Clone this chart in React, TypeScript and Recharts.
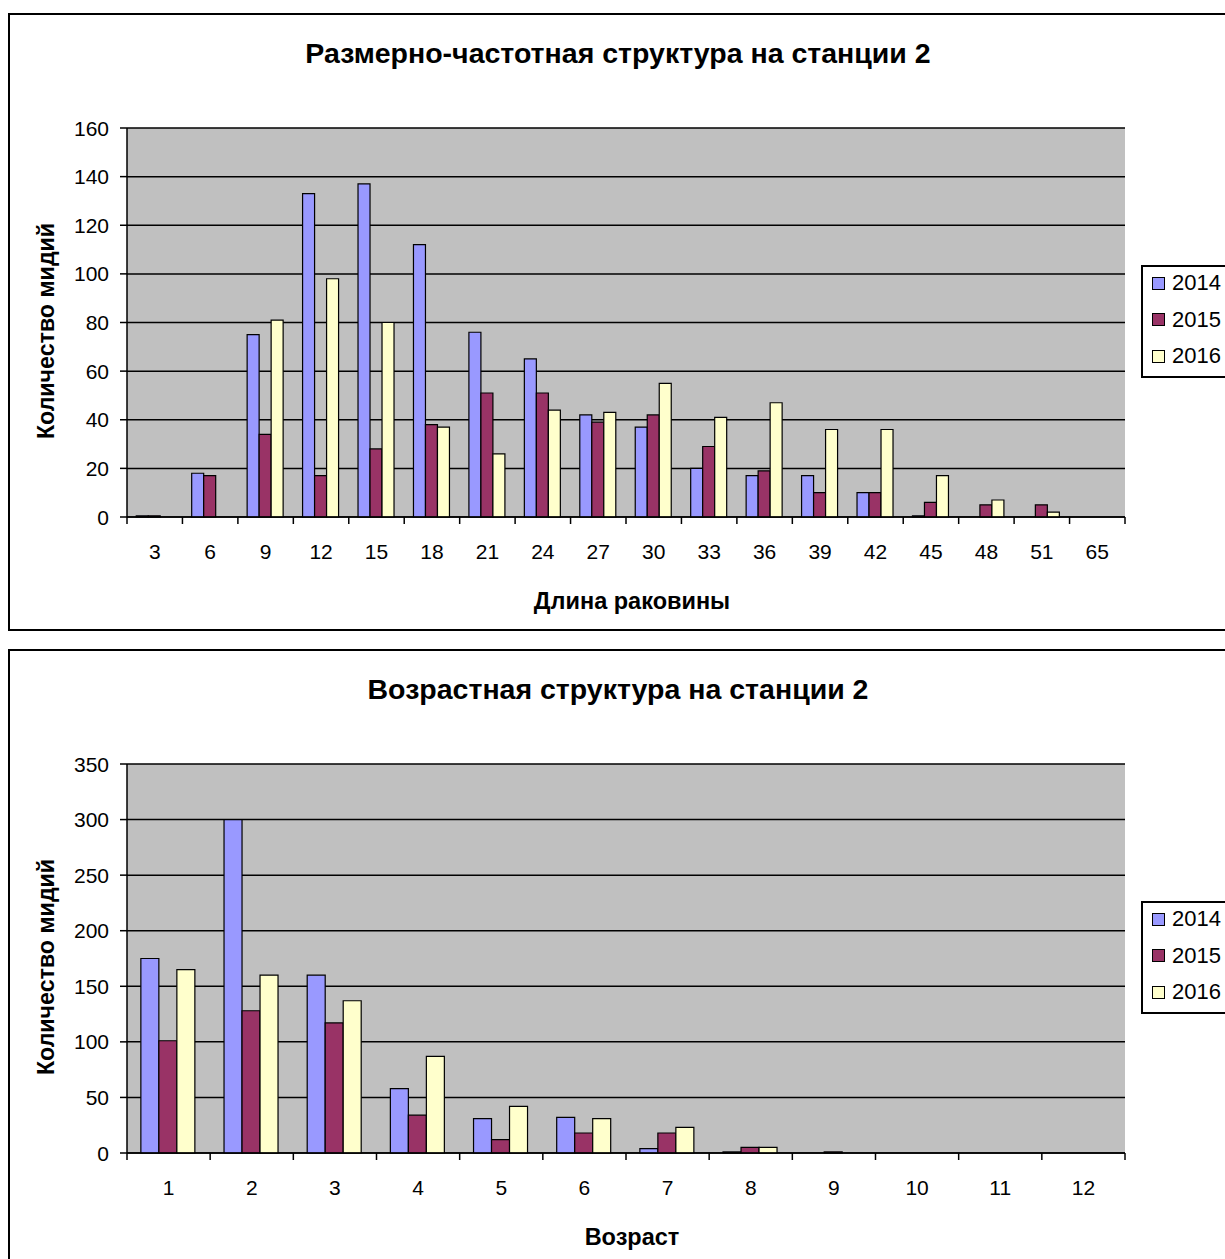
import React from "react";
import { BarChart, Bar, XAxis, YAxis, CartesianGrid } from "recharts";

// Размерная структура (длина раковины, мм)
const lengthCats = ["3", "6", "9", "12", "15", "18", "21", "24", "27", "30", "33", "36", "39", "42", "45", "48", "51", "65"];
const length2014 = [0.5, 18, 75, 133, 137, 112, 76, 65, 42, 37, 20, 17, 17, 10, 0.5, 0, 0, 0];
const length2015 = [0.5, 17, 34, 17, 28, 38, 51, 51, 39, 42, 29, 19, 10, 10, 6, 5, 5, 0];
const length2016 = [0, 0, 81, 98, 80, 37, 26, 44, 43, 55, 41, 47, 36, 36, 17, 7, 2, 0];
const lengthTicks = [0, 20, 40, 60, 80, 100, 120, 140, 160];

// Возрастная структура
const ageCats = ["1", "2", "3", "4", "5", "6", "7", "8", "9", "10", "11", "12"];
const age2014 = [175, 300, 160, 58, 31, 32, 4, 1, 0, 0, 0, 0];
const age2015 = [101, 128, 117, 34, 12, 18, 18, 5, 1, 0, 0, 0];
const age2016 = [165, 160, 137, 87, 42, 31, 23, 5, 0, 0, 0, 0];
const ageTicks = [0, 50, 100, 150, 200, 250, 300, 350];

const years = ["2014", "2015", "2016"];
const colors = ["#9999FF", "#993366", "#FFFFCC"];

const FONT = "'Liberation Sans', Arial, sans-serif";
const CHART_W = 1236;
const CHART_H = 614;
const PLOT_LEFT = 117;
const PLOT_RIGHT = 1115;
const PLOT_TOP = 113;
const PLOT_BOTTOM = 502;
const Y_AXIS_W = 60;
const X_AXIS_H = 60;
const TICK_FONT = 21;

interface PanelProps {
  top: number;
  title: string;
  xTitle: string;
  cats: string[];
  series: number[][];
  ticks: number[];
}

const Panel: React.FC<PanelProps> = ({ top, title, xTitle, cats, series, ticks }) => {
  const data = cats.map((c, i) => ({
    cat: c,
    y2014: series[0][i],
    y2015: series[1][i],
    y2016: series[2][i],
  }));
  const band = (PLOT_RIGHT - PLOT_LEFT) / cats.length;
  const last = cats.length - 1;

  // подписи категорий по центру, засечки на границах категорий
  const renderXTick = (p: any) => {
    const { x, y, payload, index } = p;
    return (
      <g>
        <line x1={x - band / 2} y1={y} x2={x - band / 2} y2={y + 7} stroke="#000" strokeWidth={1.5} />
        {index === last && (
          <line x1={x + band / 2} y1={y} x2={x + band / 2} y2={y + 7} stroke="#000" strokeWidth={1.5} />
        )}
        <text x={x} y={y + 42} textAnchor="middle" fontSize={TICK_FONT} fontFamily={FONT} fill="#000">
          {payload.value}
        </text>
      </g>
    );
  };

  const renderYTick = (p: any) => {
    const { x, y, payload } = p;
    return (
      <g>
        <line x1={x - 7} y1={y} x2={x} y2={y} stroke="#000" strokeWidth={1.5} />
        <text x={x - 18} y={y + 7.5} textAnchor="end" fontSize={TICK_FONT} fontFamily={FONT} fill="#000">
          {payload.value}
        </text>
      </g>
    );
  };

  const textStyle: React.CSSProperties = {
    position: "absolute",
    fontFamily: FONT,
    fontWeight: "bold",
    whiteSpace: "nowrap",
    transform: "translate(-50%, -50%)",
    color: "#000",
    lineHeight: 1,
  };

  return (
    <div
      style={{
        position: "absolute",
        left: 8,
        top,
        width: CHART_W + 4,
        height: CHART_H + 4,
        border: "2px solid #000",
        boxSizing: "border-box",
        background: "#fff",
      }}
    >
      <BarChart
        width={CHART_W}
        height={CHART_H}
        data={data}
        margin={{
          top: PLOT_TOP,
          left: PLOT_LEFT - Y_AXIS_W,
          right: CHART_W - PLOT_RIGHT,
          bottom: CHART_H - PLOT_BOTTOM - X_AXIS_H,
        }}
        barCategoryGap="16.67%"
        barGap={0}
      >
        <CartesianGrid vertical={false} fill="#C0C0C0" fillOpacity={1} stroke="#000" strokeWidth={1.5} />
        <XAxis
          dataKey="cat"
          height={X_AXIS_H}
          interval={0}
          tickSize={0}
          tickMargin={0}
          tickLine={false}
          axisLine={{ stroke: "#000", strokeWidth: 1.5 }}
          tick={renderXTick}
        />
        <XAxis
          xAxisId="top"
          orientation="top"
          dataKey="cat"
          height={0}
          tick={false}
          tickLine={false}
          axisLine={{ stroke: "#808080", strokeWidth: 1.5 }}
        />
        <YAxis
          width={Y_AXIS_W}
          domain={[ticks[0], ticks[ticks.length - 1]]}
          ticks={ticks}
          interval={0}
          tickSize={0}
          tickMargin={0}
          tickLine={false}
          axisLine={{ stroke: "#000", strokeWidth: 1.5 }}
          tick={renderYTick}
        />
        <YAxis
          yAxisId="right"
          orientation="right"
          width={0}
          domain={[ticks[0], ticks[ticks.length - 1]]}
          tick={false}
          tickLine={false}
          axisLine={{ stroke: "#808080", strokeWidth: 1.5 }}
        />
        {years.map((yr, i) => (
          <Bar
            key={yr}
            dataKey={"y" + yr}
            name={yr}
            fill={colors[i]}
            stroke="#000"
            strokeWidth={1.2}
            isAnimationActive={false}
          />
        ))}
      </BarChart>

      <div style={{ ...textStyle, left: 608, top: 37.5, fontSize: 28.5 }}>{title}</div>
      <div style={{ ...textStyle, left: 622, top: 587, fontSize: 23.5 }}>{xTitle}</div>
      <div style={{ ...textStyle, left: 37, top: 316, fontSize: 23.2, transform: "translate(-50%, -50%) rotate(-90deg)" }}>
        Количество мидий
      </div>

      <div
        style={{
          position: "absolute",
          left: 1131,
          top: 250,
          width: 100,
          height: 113,
          border: "2px solid #000",
          boxSizing: "border-box",
          background: "#fff",
        }}
      >
        {years.map((yr, i) => (
          <div key={yr} style={{ position: "absolute", left: 9, top: 16 + i * 36.5 - 12, height: 24, display: "flex", alignItems: "center" }}>
            <span
              style={{
                display: "inline-block",
                width: 11,
                height: 11,
                background: colors[i],
                border: "1px solid #000",
                marginRight: 7,
              }}
            />
            <span style={{ fontFamily: FONT, fontSize: 22, color: "#000" }}>{yr}</span>
          </div>
        ))}
      </div>
    </div>
  );
};

export default function App() {
  return (
    <div style={{ position: "fixed", left: 0, top: 0, width: 1225, height: 1259, overflow: "hidden", background: "#fff" }}>
      <Panel
        top={13}
        title="Размерно-частотная структура на станции 2"
        xTitle="Длина раковины"
        cats={lengthCats}
        series={[length2014, length2015, length2016]}
        ticks={lengthTicks}
      />
      <Panel
        top={649}
        title="Возрастная структура на станции 2"
        xTitle="Возраст"
        cats={ageCats}
        series={[age2014, age2015, age2016]}
        ticks={ageTicks}
      />
    </div>
  );
}
